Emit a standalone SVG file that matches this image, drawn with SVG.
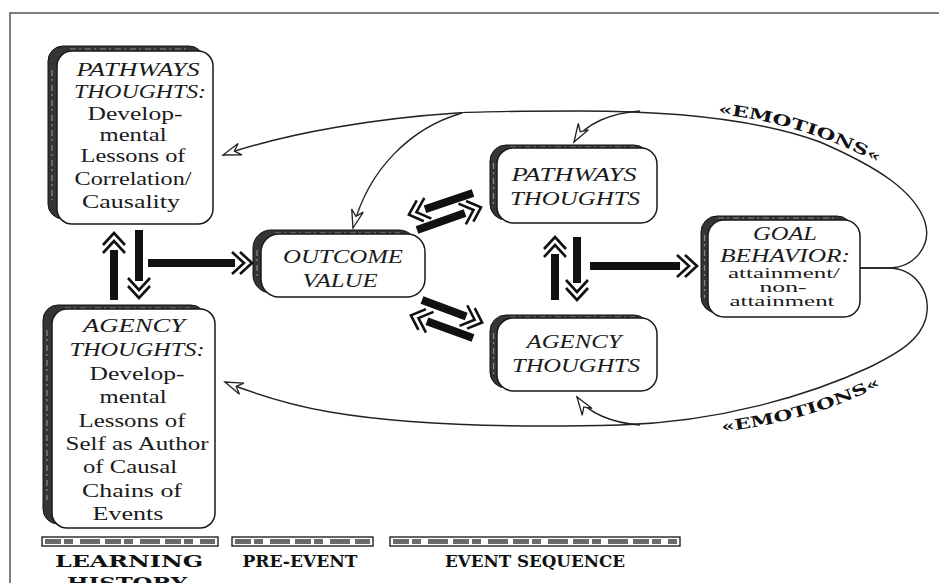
<svg xmlns="http://www.w3.org/2000/svg" width="939" height="583" viewBox="0 0 939 583">
<style>
.sh{fill:#353535;stroke:#111;stroke-width:1}
.shi{fill:none;stroke:#8a8a8a;stroke-width:1.2;stroke-dasharray:6 3 2 4}
.bx{fill:#fff;stroke:#1a1a1a;stroke-width:1.5}
.t{font-family:"Liberation Serif","DejaVu Serif",serif;fill:#1a1a1a;text-anchor:middle}
.i{font-style:italic}
.big{font-size:19px}
.sm{font-size:14px}
.mid{font-size:18px}
.lbl{font-family:"DejaVu Serif","Liberation Serif",serif;font-weight:bold;fill:#111;text-anchor:middle;font-size:17px}
.emo{font-family:"DejaVu Serif","Liberation Serif",serif;font-weight:bold;fill:#111;font-size:15px}
.thick{fill:none;stroke:#111;stroke-width:8}
.thin{fill:none;stroke:#222;stroke-width:1.4}
.bar{fill:#fff;stroke:#111;stroke-width:1.3}
.barfill{stroke:#6a6a6a;stroke-width:5;stroke-dasharray:16 3 9 7 20 5}
</style>
<defs>
<marker id="dh" markerUnits="userSpaceOnUse" orient="auto" refX="0" refY="0" markerWidth="40" markerHeight="40" viewBox="-20 -20 40 40" style="overflow:visible">
<path d="M-3,-11 L9,0 L-3,11 M5,-11 L17,0 L5,11" fill="none" stroke="#111" stroke-width="2.6"/>
</marker>
<marker id="oa" markerUnits="userSpaceOnUse" orient="auto" refX="0" refY="0" markerWidth="40" markerHeight="40" viewBox="-20 -20 40 40" style="overflow:visible">
<path d="M0,0 L-18,-6 L-12,0 L-18,6 Z" fill="#fff" stroke="#222" stroke-width="1.3" stroke-linejoin="miter"/>
</marker>
<path id="emoTop" d="M718 114 C775 120 830 137 884 166"/>
<path id="emoBot" d="M722 432 C785 424 840 408 892 380"/>
</defs>
<rect x="0" y="0" width="939" height="583" fill="#fff"/>
<g id="frame" fill="none" stroke="#555" stroke-width="1.5">
<path d="M10 583 L10 13 L939 13"/>
</g>

<g id="learning-pathways">
<rect class="sh" x="48" y="46" width="156" height="173" rx="15"/>
<path class="shi" d="M52 70 L52 200 M70 49 L190 49"/>
<rect class="bx" x="57" y="51" width="156" height="173" rx="15"/>
<text class="t i big" x="138" y="76" textLength="123" lengthAdjust="spacingAndGlyphs">PATHWAYS</text>
<text class="t i big" x="140" y="98" textLength="132" lengthAdjust="spacingAndGlyphs">THOUGHTS:</text>
<text class="t big" x="135" y="120" textLength="95" lengthAdjust="spacingAndGlyphs">Develop-</text>
<text class="t big" x="133" y="141" textLength="67" lengthAdjust="spacingAndGlyphs">mental</text>
<text class="t big" x="133" y="162" textLength="105" lengthAdjust="spacingAndGlyphs">Lessons of</text>
<text class="t big" x="133" y="185" textLength="117" lengthAdjust="spacingAndGlyphs">Correlation/</text>
<text class="t big" x="131" y="208" textLength="98" lengthAdjust="spacingAndGlyphs">Causality</text>
</g>

<g id="learning-agency">
<rect class="sh" x="43" y="305" width="163" height="219" rx="15"/>
<path class="shi" d="M47 330 L47 500 M65 308 L190 308"/>
<rect class="bx" x="52" y="309" width="163" height="219" rx="15"/>
<text class="t i big" x="134" y="332" textLength="102" lengthAdjust="spacingAndGlyphs">AGENCY</text>
<text class="t i big" x="137" y="356" textLength="135" lengthAdjust="spacingAndGlyphs">THOUGHTS:</text>
<text class="t big" x="137" y="380" textLength="95" lengthAdjust="spacingAndGlyphs">Develop-</text>
<text class="t big" x="133" y="403" textLength="67" lengthAdjust="spacingAndGlyphs">mental</text>
<text class="t big" x="132" y="427" textLength="107" lengthAdjust="spacingAndGlyphs">Lessons of</text>
<text class="t big" x="137" y="450" textLength="143" lengthAdjust="spacingAndGlyphs">Self as Author</text>
<text class="t big" x="130" y="473" textLength="94" lengthAdjust="spacingAndGlyphs">of Causal</text>
<text class="t big" x="132" y="497" textLength="100" lengthAdjust="spacingAndGlyphs">Chains of</text>
<text class="t big" x="128" y="520" textLength="71" lengthAdjust="spacingAndGlyphs">Events</text>
</g>

<g id="outcome-value">
<rect class="sh" x="253" y="230" width="164" height="63" rx="18"/>
<path class="shi" d="M257 250 L257 280 M275 233 L400 233"/>
<rect class="bx" x="261" y="234" width="164" height="63" rx="18"/>
<text class="t i big" x="343" y="263" textLength="120" lengthAdjust="spacingAndGlyphs">OUTCOME</text>
<text class="t i big" x="340" y="287" textLength="75" lengthAdjust="spacingAndGlyphs">VALUE</text>
</g>

<g id="pathways-thoughts">
<rect class="sh" x="490" y="145" width="160" height="75" rx="16"/>
<path class="shi" d="M493.5 163 L493.5 205 M510 147 L635 147"/>
<rect class="bx" x="497" y="148" width="160" height="75" rx="16"/>
<text class="t i big" x="574" y="181" textLength="125" lengthAdjust="spacingAndGlyphs">PATHWAYS</text>
<text class="t i big" x="575" y="205" textLength="130" lengthAdjust="spacingAndGlyphs">THOUGHTS</text>
</g>

<g id="agency-thoughts">
<rect class="sh" x="490" y="315" width="160" height="73" rx="16"/>
<path class="shi" d="M493.5 333 L493.5 375 M510 317 L635 317"/>
<rect class="bx" x="497" y="318" width="160" height="73" rx="16"/>
<text class="t i big" x="574" y="348" textLength="95" lengthAdjust="spacingAndGlyphs">AGENCY</text>
<text class="t i big" x="576" y="372" textLength="128" lengthAdjust="spacingAndGlyphs">THOUGHTS</text>
</g>

<g id="goal-behavior">
<rect class="sh" x="701" y="216" width="152" height="97" rx="16"/>
<path class="shi" d="M704.5 235 L704.5 298 M718 218 L835 218"/>
<rect class="bx" x="708" y="220" width="152" height="97" rx="16"/>
<text class="t i mid" x="785" y="240" textLength="64" lengthAdjust="spacingAndGlyphs">GOAL</text>
<text class="t i mid" x="785" y="262" textLength="130" lengthAdjust="spacingAndGlyphs">BEHAVIOR:</text>
<text class="t sm" x="784" y="278" textLength="112" lengthAdjust="spacingAndGlyphs">attainment/</text>
<text class="t sm" x="783" y="292" textLength="47" lengthAdjust="spacingAndGlyphs">non-</text>
<text class="t sm" x="782" y="306" textLength="105" lengthAdjust="spacingAndGlyphs">attainment</text>
</g>

<g id="connectors">
<path class="thick" d="M114 300 L114 250" marker-end="url(#dh)"/>
<path class="thick" d="M139 230 L139 281" marker-end="url(#dh)"/>
<path class="thick" d="M148 263 L235 263" marker-end="url(#dh)"/>
<path class="thick" d="M473 193 L425 209.2" marker-end="url(#dh)"/>
<path class="thick" d="M417 230 L465 213" marker-end="url(#dh)"/>
<path class="thick" d="M422 300 L466.2 316.6" marker-end="url(#dh)"/>
<path class="thick" d="M473 338 L426.9 321.2" marker-end="url(#dh)"/>
<path class="thick" d="M555 300 L555 254" marker-end="url(#dh)"/>
<path class="thick" d="M577 237 L577 283" marker-end="url(#dh)"/>
<path class="thick" d="M590 266 L680 266" marker-end="url(#dh)"/>
<path class="thin" d="M860 268 L888 268 C915 268 932 245 925 222 C915 192 880 168 820 142 C760 120 680 111 580 111 C520 111 490 111 457 113 C380 118 290 132 223 155" marker-end="url(#oa)"/>
<path class="thin" d="M640 111 C610 113 585 124 574 142" marker-end="url(#oa)"/>
<path class="thin" d="M462 113 C410 128 368 170 353 228" marker-end="url(#oa)"/>
<path class="thin" d="M860 268 L888 268 C915 268 932 292 926 318 C920 340 900 352 870 367 C810 395 720 422 620 425 C500 428 400 424 330 412 C290 405 255 394 225 382" marker-end="url(#oa)"/>
<path class="thin" d="M640 425 C612 423 588 413 577 397" marker-end="url(#oa)"/>
<text class="emo"><textPath href="#emoTop" textLength="168" lengthAdjust="spacingAndGlyphs">«EMOTIONS«</textPath></text>
<text class="emo"><textPath href="#emoBot" textLength="166" lengthAdjust="spacingAndGlyphs">«EMOTIONS«</textPath></text>
</g>

<g id="phase-bars">
<rect class="bar" x="42" y="537" width="176" height="9"/>
<line class="barfill" x1="45" y1="541.5" x2="215" y2="541.5"/>
<rect class="bar" x="232" y="537" width="141" height="9"/>
<line class="barfill" x1="235" y1="541.5" x2="370" y2="541.5"/>
<rect class="bar" x="390" y="537" width="290" height="9"/>
<line class="barfill" x1="393" y1="541.5" x2="677" y2="541.5"/>
<text class="lbl" x="129" y="567" textLength="148" lengthAdjust="spacingAndGlyphs">LEARNING</text>
<text class="lbl" x="127" y="589" textLength="120" lengthAdjust="spacingAndGlyphs">HISTORY</text>
<text class="lbl" x="300" y="567" textLength="115" lengthAdjust="spacingAndGlyphs">PRE-EVENT</text>
<text class="lbl" x="535" y="567" textLength="180" lengthAdjust="spacingAndGlyphs">EVENT SEQUENCE</text>
</g>
</svg>
